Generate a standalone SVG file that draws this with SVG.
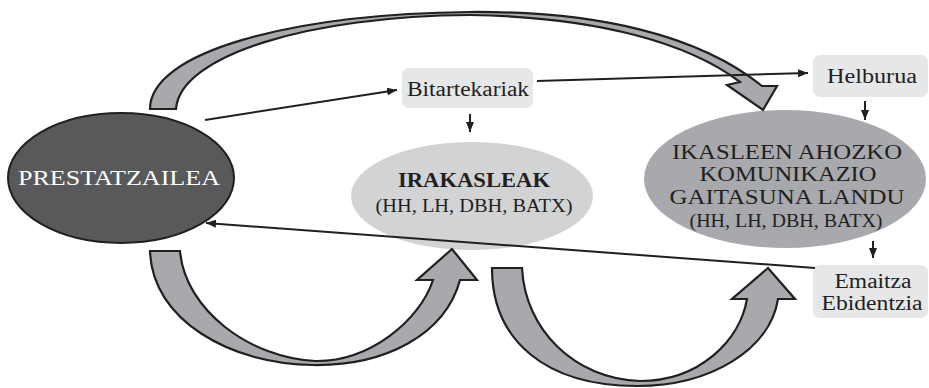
<svg xmlns="http://www.w3.org/2000/svg" width="929" height="388" viewBox="0 0 929 388">
  <defs>
    <marker id="ah" viewBox="0 0 10 8" refX="10" refY="4" markerWidth="10" markerHeight="8" markerUnits="userSpaceOnUse" orient="auto">
      <path d="M0,0 L10,4 L0,8 Z" fill="#231f20"/>
    </marker>
    <style>
      .lbl { font-family: "Liberation Serif", "Times New Roman", serif; fill: #231f20; }
      .box { fill: #e6e7e8; }
      .big { fill: #a7a9ac; stroke: #231f20; stroke-width: 2.2; stroke-linejoin: miter; }
      .con { fill: none; stroke: #231f20; stroke-width: 2; }
    </style>
  </defs>
  <rect width="929" height="388" fill="#ffffff"/>

  <!-- main nodes -->
  <g id="prestatzailea">
    <ellipse cx="121" cy="178" rx="113" ry="65" fill="#58595b" stroke="#231f20" stroke-width="2"/>
    <text class="lbl" x="119" y="185" font-size="22" text-anchor="middle" style="fill:#ffffff" textLength="202" lengthAdjust="spacingAndGlyphs">PRESTATZAILEA</text>
  </g>

  <g id="irakasleak">
    <ellipse cx="472" cy="196" rx="121" ry="54" fill="#d1d3d4"/>
    <text class="lbl" x="474" y="187" font-size="22" font-weight="bold" text-anchor="middle" textLength="152" lengthAdjust="spacingAndGlyphs">IRAKASLEAK</text>
    <text class="lbl" x="474" y="212" font-size="19" text-anchor="middle" textLength="197" lengthAdjust="spacingAndGlyphs">(HH, LH, DBH, BATX)</text>
  </g>

  <g id="ikasleen">
    <ellipse cx="785" cy="179" rx="141" ry="69" fill="#a7a9ac"/>
    <text class="lbl" x="787" y="159" font-size="20" text-anchor="middle" textLength="230" lengthAdjust="spacingAndGlyphs">IKASLEEN AHOZKO</text>
    <text class="lbl" x="788" y="181.3" font-size="20" text-anchor="middle" textLength="177" lengthAdjust="spacingAndGlyphs">KOMUNIKAZIO</text>
    <text class="lbl" x="787" y="203.6" font-size="20" text-anchor="middle" textLength="235" lengthAdjust="spacingAndGlyphs">GAITASUNA LANDU</text>
    <text class="lbl" x="786" y="227" font-size="18" text-anchor="middle" textLength="193" lengthAdjust="spacingAndGlyphs">(HH, LH, DBH, BATX)</text>
  </g>

  <g id="bitartekariak">
    <rect class="box" x="402" y="68" width="131" height="40" rx="7"/>
    <text class="lbl" x="468" y="96" font-size="20" text-anchor="middle" textLength="122" lengthAdjust="spacingAndGlyphs">Bitartekariak</text>
  </g>

  <g id="helburua">
    <rect class="box" x="813" y="55" width="115" height="42" rx="7"/>
    <text class="lbl" x="872" y="83" font-size="20" text-anchor="middle" textLength="90" lengthAdjust="spacingAndGlyphs">Helburua</text>
  </g>

  <g id="emaitza">
    <rect class="box" x="813" y="265" width="115" height="53" rx="7"/>
    <text class="lbl" x="873" y="288" font-size="20" text-anchor="middle" textLength="77" lengthAdjust="spacingAndGlyphs">Emaitza</text>
    <text class="lbl" x="872" y="310" font-size="20" text-anchor="middle" textLength="101" lengthAdjust="spacingAndGlyphs">Ebidentzia</text>
  </g>

  <!-- broad curved arrows -->
  <g id="curved-arrows">
    <path class="big" d="M150,109 C150,52 290,14 470,12 C600,11 700,36 762,86 L777,86 L763,110 L727,85 L740,82 C690,44 600,17 470,15 C310,16 180,55 176,109 Z"/>
    <path class="big" d="M150,251 L180,251 C185,310 250,358 315,361 C370,362 420,320 433,280 L417,280 L452,249 L477,280 L460,280 C445,335 385,366 313,365 C230,364 152,320 150,251 Z"/>
    <path class="big" d="M492,268 L522,268 C525,330 575,379 640,381 C700,381 740,340 747,299 L732,299 L768,268 L795,299 L778,299 C770,350 710,386 637,386 C545,386 492,340 492,268 Z"/>
  </g>

  <!-- connectors -->
  <g id="connectors">
    <line class="con" x1="205" y1="120" x2="397" y2="90" marker-end="url(#ah)"/>
    <line class="con" x1="537" y1="81" x2="808" y2="73" marker-end="url(#ah)"/>
    <line class="con" x1="470" y1="114" x2="470" y2="132" marker-end="url(#ah)"/>
    <line class="con" x1="865" y1="101" x2="865" y2="120" marker-end="url(#ah)"/>
    <line class="con" x1="873" y1="241" x2="873" y2="258" marker-end="url(#ah)"/>
    <line class="con" x1="815" y1="268" x2="206" y2="223" marker-end="url(#ah)"/>
  </g>
</svg>
